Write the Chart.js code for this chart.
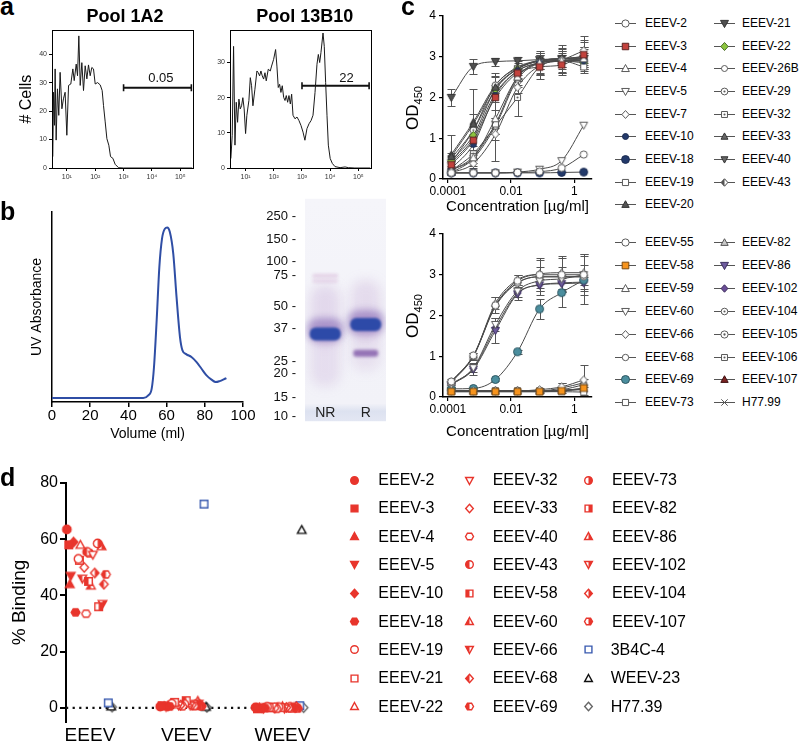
<!DOCTYPE html>
<html><head><meta charset="utf-8">
<script src="https://cdn.jsdelivr.net/npm/chart.js@4.4.1/dist/chart.umd.min.js"></script>
<style>
html,body{margin:0;padding:0;background:#fff}
body{width:799px;height:742px;overflow:hidden;position:relative;font-family:"Liberation Sans",Arial,Helvetica,sans-serif;color:#000}
canvas{position:absolute}
.lab{position:absolute;white-space:nowrap}
</style></head><body>
<script>
// ================= DATA =================
// Panel a : flow cytometry histograms
const flowTickValues = [10, 100, 1000, 10000, 100000];
const flowTickLabels = ['10\u00B9', '10\u00B2', '10\u00B3', '10\u2074', '10\u2075'];
const flowYTicks1 = [0, 10, 20, 30, 40];
const flowYTicks2 = [0, 10, 20, 30];
const pool1A2X = [3.2,3.4,3.67,3.87,4.2,4.67,5.2,5.8,6.7,7.6,8.7,10,11.5,13.8,16.3,18.2,21.4,23.8,26.5,29.6,33.8,38.7,44.3,50.8,58,66.5,76,87,100,121,150,176,196,225,258,302,347,420,505,665,1000,262144];
const pool1A2Y = [4,26.6,15,34.8,9.8,27.8,18.5,33.6,20.8,24.3,26.6,11.5,29,29.5,34.8,30.7,36.5,32.4,46.4,29,37,27.2,35.9,31.3,36.2,32.4,35.3,34.8,29.5,30,29.2,27.2,22,16.2,10.3,8,4,3.4,1.3,0.1,0,0];
const pool13B10X = [3.0,3.36,3.75,4.2,4.66,5.2,5.8,6.46,7.2,8.0,8.9,10,11.1,13.1,14.7,16.3,18.2,21.4,25.2,28.2,31.4,35,39,43.6,48.6,54,63.7,75,83.5,98.6,116,129,144,161,179,200,224,250,277,310,345,386,430,480,565,665,780,920,1090,1270,1500,1780,2100,2460,2900,3400,3800,4240,4700,5560,6170,6900,7700,8600,10000,11900,14800,22400,33700,44000,75000,262144];
const pool13B10Y = [2.7,9.3,34.6,6.5,18.7,13,19.6,16.8,17.7,20,16.8,9.8,15,19.2,25.7,23.4,17.7,22.4,27.6,27.1,26.2,27.6,26.2,25.3,27.1,24.8,28.1,27.6,29,30.9,33.7,29,22.9,23.8,21.5,23.4,20.1,19.2,20.6,18.7,20.6,18.2,21,15,14,14.5,13.5,12.1,10.2,7.9,11.2,12.6,13.5,15,21.5,29.5,32.3,30,32.8,38.4,34.6,24.3,15,6.5,2.7,1.3,0.4,0.1,0.3,0.1,0,0];
const gate1 = {from: 1000, to: 245000, level: 28.2, label: '0.05', labelX: 20600, labelY: 31.4};
const gate2 = {from: 1000, to: 240000, level: 23.4, label: '22', labelX: 38000, labelY: 25.6};

// Panel b : size exclusion trace and gel
const uvVolume = [0,47.8,50.4,52.2,53.4,54.8,56.2,57.6,59.1,60.3,61.7,63.5,65.2,67,68.3,70.4,73,75.7,78.3,80.9,83.5,85.7,87.8,89.9,91.3];
const uvAbs = [0.021,0.021,0.035,0.07,0.184,0.43,0.71,0.86,0.912,0.918,0.895,0.78,0.553,0.342,0.272,0.251,0.237,0.21,0.175,0.14,0.118,0.105,0.11,0.119,0.126];
const markerKDa = ['250','150','100','75','50','37','25','20','15','10'];
const markerMigration = [8.0,18.1,28.0,34.4,48.3,58.3,73.1,78.4,89.4,97.8];
const gelLanes = ['NR','R'];
const bandLane = ['NR','NR','NR','NR','NR','NR','R','R','R','R','R'];
const bandMigration = [52,71,34.6,37,59,60.8,50,64,55.5,56.5,69.4];
const bandKind = ['smear','smear','faint','faint','halo','main','smear','smear','halo','main','minor'];
const bandIntensity = [0.2,0.16,0.3,0.24,0.45,1,0.18,0.14,0.45,1,0.72];

// Panel c : ELISA binding curves
const conc = [0.000128, 0.00064, 0.0032, 0.016, 0.08, 0.4, 2];
const concTicks = [0.0001, 0.01, 1];
const concTickLabels = ['0.0001', '0.01', '1'];
const c1Names = ['EEEV-2','EEEV-3','EEEV-4','EEEV-5','EEEV-7','EEEV-10','EEEV-18','EEEV-19','EEEV-20','EEEV-21','EEEV-22','EEEV-26B','EEEV-29','EEEV-32','EEEV-33','EEEV-40','EEEV-43'];
const c1OD = [
  [0.15,0.15,0.15,0.16,0.18,0.27,0.60],
  [0.35,0.95,2.00,2.60,2.75,2.80,3.05],
  [0.22,0.52,1.48,2.50,2.85,2.90,2.95],
  [0.15,0.15,0.15,0.17,0.24,0.45,1.32],
  [0.15,0.38,1.10,2.25,2.78,2.92,3.15],
  [0.25,0.85,2.05,2.65,2.85,2.90,2.90],
  [0.15,0.15,0.15,0.15,0.15,0.16,0.17],
  [0.20,0.55,1.35,2.50,2.85,2.90,2.75],
  [0.55,1.35,2.25,2.70,2.90,2.95,3.00],
  [2.00,2.76,2.88,2.90,2.93,2.95,2.95],
  [0.45,1.07,2.20,2.70,2.90,2.90,2.85],
  [0.15,0.50,1.30,2.45,2.85,2.95,3.00],
  [0.40,1.20,2.30,2.72,2.90,2.95,2.90],
  [0.20,0.62,1.30,2.00,2.75,2.90,2.90],
  [0.60,1.40,2.30,2.75,2.90,2.95,2.95],
  [0.50,1.20,2.20,2.70,2.90,2.95,2.95],
  [0.40,1.00,2.10,2.65,2.85,2.90,2.90]
];
const c1Err = [
  null,
  [0.08,0.15,0.30,0.12,0.20,0.25,0.30],
  [0.10,0.20,1.05,0.20,0.25,0.30,0.30],
  null,
  [0.05,0.10,0.15,0.15,0.20,0.30,0.35],
  null, null, null,
  [0.10,0.85,0.35,0.15,0.20,0.20,0.25],
  [0.22,0.18,0.10,0.10,0.12,0.10,0.10],
  null,
  [0.05,0.10,0.20,0.20,0.30,0.35,0.40],
  null,
  [0.05,0.10,0.20,0.45,0.30,0.20,0.20],
  [0.47,0.20,0.20,0.15,0.20,0.20,0.25],
  null, null
];
const c2Names = ['EEEV-55','EEEV-58','EEEV-59','EEEV-60','EEEV-66','EEEV-68','EEEV-69','EEEV-73','EEEV-82','EEEV-86','EEEV-102','EEEV-104','EEEV-105','EEEV-106','EEEV-107','H77.99'];
const c2OD = [
  [0.38,1.02,2.25,2.85,3.00,3.00,3.00],
  [0.13,0.13,0.13,0.13,0.13,0.15,0.22],
  [0.35,1.00,2.30,2.88,3.02,3.05,3.05],
  [0.30,0.72,1.78,2.60,2.85,2.90,3.00],
  [0.15,0.15,0.15,0.15,0.18,0.25,0.42],
  [0.38,1.00,2.22,2.80,2.95,2.95,2.95],
  [0.20,0.21,0.43,1.11,2.16,2.56,2.87],
  [0.13,0.13,0.13,0.13,0.13,0.13,0.12],
  [0.15,0.15,0.15,0.15,0.15,0.22,0.35],
  [0.30,0.68,1.63,2.53,2.75,2.78,2.80],
  [0.32,0.70,1.70,2.55,2.75,2.80,2.82],
  [0.37,1.00,2.25,2.80,2.95,2.95,2.95],
  [0.15,0.15,0.15,0.15,0.15,0.18,0.30],
  [0.15,0.15,0.15,0.15,0.15,0.16,0.18],
  [0.15,0.15,0.15,0.15,0.15,0.17,0.20],
  [0.14,0.14,0.14,0.14,0.14,0.15,0.20]
];
const c2Err = [
  [0.05,0.05,0.20,0.15,0.40,0.42,0.50],
  null,
  [0.05,0.08,0.15,0.12,0.35,0.40,0.45],
  [0.05,0.10,0.15,0.15,0.35,0.30,0.25],
  [0,0,0,0,0.05,0.10,0.36],
  null,
  [0.02,0.03,0.03,0.05,0.25,0.35,0.60],
  null,
  [0,0,0,0,0.05,0.12,0.10],
  [0.05,0.15,0.30,0.15,0.15,0.20,0.15],
  null, null, null, null, null, null
];

// Panel d : % binding
const dGroups = ['EEEV', 'VEEV', 'WEEV'];
const dYTicks = [0, 20, 40, 60, 80];
const dNames = ['EEEV-2','EEEV-3','EEEV-4','EEEV-5','EEEV-10','EEEV-18','EEEV-19','EEEV-21','EEEV-22','EEEV-32','EEEV-33','EEEV-40','EEEV-43','EEEV-58','EEEV-60','EEEV-66','EEEV-68','EEEV-69','EEEV-73','EEEV-82','EEEV-86','EEEV-102','EEEV-104','EEEV-107','3B4C-4','WEEV-23','H77.39'];
const dEEEV = [63.5,58,44,47,59,34,53,52.5,58,54.5,50,33.5,55.5,45,43.5,46,44,47.5,58.5,36,57.5,37,48,55,1.8,0.5,0.3];
const dVEEV = [0.5,0.8,0.6,0.4,0.7,0.5,1.5,2.0,1.2,0.9,1.0,0.6,1.4,2.6,1.8,0.9,1.1,0.7,1.3,0.8,2.5,1.5,1.0,0.6,72.5,0.4,0.2];
const dWEEV = [0.2,-0.3,0.1,0.3,-0.2,0.0,0.4,0.2,-0.1,0.5,0.0,-0.3,0.3,0.1,0.6,-0.2,0.2,0.0,0.4,-0.1,0.3,0.1,0.5,-0.2,0.8,63.3,0.1];
const jitterEEEV = [-0.24,-0.22,-0.21,-0.20,-0.17,-0.15,-0.12,-0.11,-0.10,0.03,-0.06,-0.04,-0.03,-0.015,0.01,-0.08,0.145,0.165,0.08,0.09,0.12,0.13,0.05,-0.005,0.19,0.22,0.23];
const jitterVEEV = [-0.27,-0.25,-0.23,-0.21,-0.19,-0.17,-0.15,-0.12,-0.10,-0.08,-0.06,-0.04,-0.02,0.0,0.02,0.04,0.06,0.08,0.10,0.11,0.12,0.13,0.15,0.16,0.185,0.205,0.215];
const jitterWEEV = [-0.28,-0.26,-0.24,-0.22,-0.20,-0.18,-0.16,-0.14,-0.12,-0.10,-0.08,-0.06,-0.04,-0.02,0.0,0.02,0.04,0.06,0.08,0.10,0.12,0.13,0.145,0.16,0.18,0.2,0.22];

// ================= SETUP =================
const FF = '"Liberation Sans", Arial, Helvetica, sans-serif';
Chart.defaults.font.family = FF;
Chart.defaults.color = '#000';
Chart.defaults.animation = false;
Chart.defaults.responsive = false;
Chart.defaults.maintainAspectRatio = false;
Chart.defaults.events = [];
Chart.defaults.plugins.legend.display = false;
Chart.defaults.plugins.tooltip.enabled = false;

function mkCanvas(left, top, w, h) {
  const c = document.createElement('canvas');
  c.width = w; c.height = h;
  c.style.left = left + 'px'; c.style.top = top + 'px';
  c.style.width = w + 'px'; c.style.height = h + 'px';
  document.body.appendChild(c);
  return c.getContext('2d');
}
function addText(html, x, y, fs, o) {
  o = o || {};
  const d = document.createElement('div');
  d.className = 'lab';
  d.innerHTML = html;
  d.style.fontSize = fs + 'px';
  d.style.lineHeight = fs + 'px';
  d.style.left = x + 'px';
  d.style.top = y + 'px';
  if (o.bold) d.style.fontWeight = 'bold';
  if (o.center) d.style.transform = 'translateX(-50%)';
  if (o.rot) d.style.transform = 'translate(-50%,-50%) rotate(-90deg)';
  if (o.color) d.style.color = o.color;
  document.body.appendChild(d);
  return d;
}

// ---------- markers
function shapePath(ctx, shape, r) {
  ctx.beginPath();
  switch (shape) {
    case 'circle': ctx.arc(0, 0, r, 0, Math.PI * 2); break;
    case 'square': ctx.rect(-r * 0.9, -r * 0.9, r * 1.8, r * 1.8); break;
    case 'triangle': ctx.moveTo(0, -r * 1.05); ctx.lineTo(r * 1.02, r * 0.8); ctx.lineTo(-r * 1.02, r * 0.8); ctx.closePath(); break;
    case 'dtriangle': ctx.moveTo(0, r * 1.05); ctx.lineTo(r * 1.02, -r * 0.8); ctx.lineTo(-r * 1.02, -r * 0.8); ctx.closePath(); break;
    case 'diamond': ctx.moveTo(0, -r * 1.1); ctx.lineTo(r, 0); ctx.lineTo(0, r * 1.1); ctx.lineTo(-r, 0); ctx.closePath(); break;
    case 'hexagon': ctx.moveTo(-r * 1.05, 0); ctx.lineTo(-r * 0.55, -r * 0.85); ctx.lineTo(r * 0.55, -r * 0.85); ctx.lineTo(r * 1.05, 0); ctx.lineTo(r * 0.55, r * 0.85); ctx.lineTo(-r * 0.55, r * 0.85); ctx.closePath(); break;
    case 'cross': ctx.moveTo(-r, -r); ctx.lineTo(r, r); ctx.moveTo(r, -r); ctx.lineTo(-r, r); break;
  }
}
function paintMarker(ctx, m) {
  const lw = m.lw || 1;
  if (m.shape === 'cross') {
    shapePath(ctx, 'cross', m.r); ctx.lineWidth = lw; ctx.strokeStyle = m.stroke; ctx.stroke(); return;
  }
  shapePath(ctx, m.shape, m.r);
  ctx.fillStyle = m.fill || '#fff'; ctx.fill();
  if (m.half) {
    ctx.save(); shapePath(ctx, m.shape, m.r); ctx.clip();
    ctx.fillStyle = m.halfColor;
    ctx.fillRect(m.half === 'left' ? -20 : 0, -20, 20, 40);
    ctx.restore();
  }
  if (m.dot) { ctx.beginPath(); ctx.arc(0, 0, m.r * 0.32, 0, Math.PI * 2); ctx.fillStyle = m.stroke; ctx.fill(); }
  if (m.stroke) { shapePath(ctx, m.shape, m.r); ctx.lineWidth = lw; ctx.strokeStyle = m.stroke; ctx.lineJoin = 'miter'; ctx.stroke(); }
}
function makeMarker(m, withLine) {
  const s = Math.ceil(2 * m.r * 1.15 + (m.lw || 1) + 2) | 1;
  const w = withLine ? 21 : s;
  const c = document.createElement('canvas');
  c.width = w; c.height = s;
  const ctx = c.getContext('2d');
  if (withLine) {
    ctx.beginPath(); ctx.moveTo(0, s / 2); ctx.lineTo(w, s / 2);
    ctx.strokeStyle = '#555'; ctx.lineWidth = 1; ctx.stroke();
  }
  ctx.translate(w / 2, s / 2);
  paintMarker(ctx, m);
  return c;
}
function placeCanvas(c, cx, cy) {
  c.style.left = (cx - c.width / 2) + 'px';
  c.style.top = (cy - c.height / 2) + 'px';
  document.body.appendChild(c);
}

// ---------- plugins
const boxPlugin = {
  id: 'box',
  afterDraw(chart) {
    const {ctx, chartArea: a} = chart;
    ctx.save(); ctx.strokeStyle = '#000'; ctx.lineWidth = 1;
    ctx.strokeRect(Math.round(a.left) + 0.5, Math.round(a.top) + 0.5, Math.round(a.right - a.left), Math.round(a.bottom - a.top));
    ctx.restore();
  }
};
const gatePlugin = {
  id: 'gate',
  afterDatasetsDraw(chart, args, opts) {
    const {ctx, scales: {x, y}} = chart;
    ctx.save();
    ctx.font = '13px ' + FF; ctx.fillStyle = '#111';
    ctx.textAlign = 'center'; ctx.textBaseline = 'middle';
    ctx.fillText(opts.label, x.getPixelForValue(opts.labelX), y.getPixelForValue(opts.labelY));
    ctx.restore();
  }
};
const errorBarPlugin = {
  id: 'errorBars',
  beforeDatasetsDraw(chart) {
    const {ctx, scales: {x, y}} = chart;
    ctx.save(); ctx.strokeStyle = '#555'; ctx.lineWidth = 1;
    chart.data.datasets.forEach(ds => {
      if (!ds.errors) return;
      ds.errors.forEach((e, i) => {
        if (!e) return;
        const p = ds.data[i];
        const px = Math.round(x.getPixelForValue(p.x)) + 0.5;
        const y1 = Math.round(y.getPixelForValue(p.y + e)) + 0.5;
        const y2 = Math.round(y.getPixelForValue(p.y - e)) + 0.5;
        ctx.beginPath();
        ctx.moveTo(px, y1); ctx.lineTo(px, y2);
        ctx.moveTo(px - 4, y1); ctx.lineTo(px + 4, y1);
        ctx.moveTo(px - 4, y2); ctx.lineTo(px + 4, y2);
        ctx.stroke();
      });
    });
    ctx.restore();
  }
};
const bandStyles = {
  main:  {w: 31, h: 13, color: '#2d4aa8', blur: 1.2, radius: 6},
  halo:  {w: 36, h: 24, color: '#6b4aa6', blur: 3.5, radius: 10},
  smear: {w: 30, h: 60, color: '#a070b8', blur: 6, radius: 14},
  faint: {w: 26, h: 4, color: '#c48ac0', blur: 1.5, radius: 2},
  minor: {w: 25, h: 7, color: '#7448a0', blur: 1.6, radius: 3}
};
const gelPlugin = {
  id: 'gel',
  beforeDatasetsDraw(chart) {
    const {ctx, chartArea: a, scales: {x, y}} = chart;
    ctx.save();
    const g = ctx.createLinearGradient(0, a.top, 0, a.bottom);
    g.addColorStop(0, '#f5f5fa'); g.addColorStop(0.92, '#f2f2f8');
    g.addColorStop(0.955, '#dde2f0'); g.addColorStop(1, '#e3e7f3');
    ctx.fillStyle = g;
    ctx.fillRect(a.left, a.top, a.right - a.left, a.bottom - a.top);
    ctx.beginPath(); ctx.rect(a.left, a.top, a.right - a.left, a.bottom - a.top); ctx.clip();
    bandLane.forEach((lane, i) => {
      const st = bandStyles[bandKind[i]];
      const cx = x.getPixelForValue(gelLanes.indexOf(lane));
      const cy = y.getPixelForValue(bandMigration[i]);
      ctx.filter = 'blur(' + st.blur + 'px)';
      ctx.globalAlpha = bandIntensity[i];
      ctx.fillStyle = st.color;
      ctx.beginPath();
      ctx.roundRect(cx - st.w / 2, cy - st.h / 2, st.w, st.h, st.radius);
      ctx.fill();
    });
    ctx.filter = 'none'; ctx.globalAlpha = 1;
    ctx.font = '14px ' + FF; ctx.fillStyle = '#222';
    ctx.textAlign = 'center'; ctx.textBaseline = 'middle';
    gelLanes.forEach((l, i) => ctx.fillText(l, x.getPixelForValue(i), a.bottom - 8));
    ctx.restore();
  }
};

// ================= PANEL A =================
function flowChart(ctx, xs, ys, yMax, xMin, yTicks, gate, yTitle) {
  return new Chart(ctx, {
    type: 'line',
    data: {datasets: [
      {data: xs.map((v, i) => ({x: v, y: ys[i]})), borderColor: '#1a1a1a', borderWidth: 1, pointRadius: 0, tension: 0},
      {data: [{x: gate.from, y: gate.level}, {x: gate.to, y: gate.level}], borderColor: '#111', borderWidth: 2,
       pointStyle: 'line', rotation: 90, pointRadius: 3.5, pointBorderWidth: 1.6, pointBorderColor: '#111'}
    ]},
    options: {
      layout: {padding: {top: 5, right: 7, left: 0, bottom: 0}},
      scales: {
        x: {type: 'logarithmic', min: xMin, max: 280000,
            afterBuildTicks: s => { s.ticks = flowTickValues.map(v => ({value: v})); },
            afterFit: s => { s.height = 26; },
            ticks: {autoSkip: false, maxRotation: 0, font: {size: 7}, color: '#333', padding: 2, callback: (v, i) => flowTickLabels[i]},
            grid: {drawOnChartArea: false, tickLength: 3, color: '#000'}, border: {color: '#000', width: 1}},
        y: {min: 0, max: yMax,
            afterBuildTicks: s => { s.ticks = yTicks.map(v => ({value: v})); },
            afterFit: s => { s.width = 52; },
            ticks: {autoSkip: false, font: {size: 7}, color: '#333', padding: 2},
            grid: {drawOnChartArea: false, tickLength: 3, color: '#000'}, border: {color: '#000', width: 1},
            title: {display: !!yTitle, text: yTitle || '', font: {size: 16}, padding: {top: 17, bottom: 0}}}
      },
      plugins: {gate: gate}
    },
    plugins: [boxPlugin, gatePlugin]
  });
}
flowChart(mkCanvas(0, 24, 200, 170), pool1A2X, pool1A2Y, 48.4, 3.0, flowYTicks1, gate1, '# Cells');
flowChart(mkCanvas(178, 24, 200, 170), pool13B10X, pool13B10Y, 39.2, 2.8, flowYTicks2, gate2, null);

// ================= PANEL B =================
new Chart(mkCanvas(0, 200, 262, 245), {
  type: 'line',
  data: {datasets: [{data: uvVolume.map((v, i) => ({x: v, y: uvAbs[i]})), borderColor: '#2f4ea5', borderWidth: 2,
    pointRadius: 0, cubicInterpolationMode: 'monotone'}]},
  options: {
    layout: {padding: {top: 12, right: 19, left: 0, bottom: 0}},
    scales: {
      x: {type: 'linear', min: 0, max: 100,
          ticks: {stepSize: 20, font: {size: 15}, padding: 0, maxRotation: 0},
          grid: {drawOnChartArea: false, tickLength: 5, color: '#000', lineWidth: 1.5},
          border: {color: '#000', width: 1.5},
          title: {display: true, text: 'Volume (ml)', font: {size: 14}, padding: {top: 0, bottom: 2}},
          afterFit: s => { s.height = 43; }},
      y: {min: 0, max: 1, ticks: {display: false}, grid: {display: false},
          border: {color: '#000', width: 1.5},
          title: {display: true, text: 'UV Absorbance', font: {size: 14}, padding: {top: 29, bottom: 0}},
          afterFit: s => { s.width = 52; }}
    }
  }
});

new Chart(mkCanvas(262, 190, 128, 240), {
  type: 'scatter',
  data: {labels: gelLanes, datasets: []},
  options: {
    layout: {padding: {top: 3, right: 4, bottom: 5, left: 0}},
    scales: {
      x: {type: 'category', labels: gelLanes, offset: true, display: false},
      y: {type: 'linear', reverse: true, min: 0, max: 100,
          afterBuildTicks: s => { s.ticks = markerMigration.map(v => ({value: v})); },
          ticks: {autoSkip: false, font: {size: 13}, padding: 1, color: '#111', callback: (v, i) => markerKDa[i] + ' -'},
          grid: {display: false}, border: {display: false},
          afterFit: s => { s.width = 43; }}
    }
  },
  plugins: [gelPlugin]
});

// ================= PANEL C =================
const G = '#5a5a5a';
const cSpec = {
  'EEEV-2': {shape: 'circle', r: 3.6, fill: '#fff', stroke: G},
  'EEEV-3': {shape: 'square', r: 3.6, fill: '#c3423d', stroke: '#5e2422'},
  'EEEV-4': {shape: 'triangle', r: 3.8, fill: '#fff', stroke: G},
  'EEEV-5': {shape: 'dtriangle', r: 3.8, fill: '#fff', stroke: G},
  'EEEV-7': {shape: 'diamond', r: 3.6, fill: '#fff', stroke: G},
  'EEEV-10': {shape: 'circle', r: 3.0, fill: '#233a6b', stroke: '#1a2a50'},
  'EEEV-18': {shape: 'circle', r: 3.9, fill: '#233a6b', stroke: '#1a2a50'},
  'EEEV-19': {shape: 'square', r: 3.4, fill: '#fff', stroke: G},
  'EEEV-20': {shape: 'triangle', r: 3.6, fill: '#555', stroke: '#333'},
  'EEEV-21': {shape: 'dtriangle', r: 3.9, fill: '#505050', stroke: '#333'},
  'EEEV-22': {shape: 'diamond', r: 3.7, fill: '#8dc63f', stroke: '#4d6d2a'},
  'EEEV-26B': {shape: 'circle', r: 3.0, fill: '#fff', stroke: G},
  'EEEV-29': {shape: 'circle', r: 3.4, fill: '#fff', stroke: G, dot: true},
  'EEEV-32': {shape: 'square', r: 3.3, fill: '#fff', stroke: G, dot: true},
  'EEEV-33': {shape: 'triangle', r: 3.4, fill: '#666', stroke: '#333'},
  'EEEV-40': {shape: 'dtriangle', r: 3.4, fill: '#666', stroke: '#333'},
  'EEEV-43': {shape: 'diamond', r: 3.4, fill: '#fff', stroke: '#444', half: 'left', halfColor: '#555'},
  'EEEV-55': {shape: 'circle', r: 3.6, fill: '#fff', stroke: G},
  'EEEV-58': {shape: 'square', r: 3.7, fill: '#f7941d', stroke: '#7a4a10'},
  'EEEV-59': {shape: 'triangle', r: 3.8, fill: '#fff', stroke: G},
  'EEEV-60': {shape: 'dtriangle', r: 3.8, fill: '#fff', stroke: G},
  'EEEV-66': {shape: 'diamond', r: 3.6, fill: '#fff', stroke: G},
  'EEEV-68': {shape: 'circle', r: 3.2, fill: '#fff', stroke: G},
  'EEEV-69': {shape: 'circle', r: 4.0, fill: '#4b8e9e', stroke: '#2c5560'},
  'EEEV-73': {shape: 'square', r: 3.4, fill: '#fff', stroke: G},
  'EEEV-82': {shape: 'triangle', r: 3.6, fill: '#c8c8c8', stroke: '#555'},
  'EEEV-86': {shape: 'dtriangle', r: 3.9, fill: '#6e5c9e', stroke: '#3d3060'},
  'EEEV-102': {shape: 'diamond', r: 3.4, fill: '#6b4e98', stroke: '#3d2c5c'},
  'EEEV-104': {shape: 'circle', r: 3.3, fill: '#fff', stroke: G, dot: true},
  'EEEV-105': {shape: 'circle', r: 3.6, fill: '#fff', stroke: G, dot: true},
  'EEEV-106': {shape: 'square', r: 3.3, fill: '#fff', stroke: G, dot: true},
  'EEEV-107': {shape: 'triangle', r: 3.6, fill: '#7b2323', stroke: '#3d1010'},
  'H77.99': {shape: 'cross', r: 3.2, stroke: '#555', lw: 1}
};
function cChart(ctx, names, ods, errs, xTitlePad) {
  return new Chart(ctx, {
    type: 'line',
    data: {datasets: names.map((n, i) => ({
      label: n,
      data: conc.map((c, j) => ({x: c, y: ods[i][j]})),
      errors: errs[i],
      borderColor: '#4a4a4a', borderWidth: 1,
      pointStyle: makeMarker(cSpec[n]), pointRadius: 4,
      cubicInterpolationMode: 'monotone', clip: false
    }))},
    options: {
      layout: {padding: {top: 16, right: 13, left: 0, bottom: 0}},
      scales: {
        x: {type: 'logarithmic', min: 0.000075, max: 3.65,
            afterBuildTicks: s => { s.ticks = concTicks.map(v => ({value: v})); },
            afterFit: s => { s.height = xTitlePad.h; },
            ticks: {autoSkip: false, maxRotation: 0, font: {size: 12}, padding: 1, callback: (v, i) => concTickLabels[i]},
            grid: {drawOnChartArea: false, tickLength: 4, color: '#000', lineWidth: 1.2},
            border: {color: '#000', width: 1.5},
            title: {display: true, text: 'Concentration [\u00B5g/ml]', font: {size: 15}, padding: {top: 0, bottom: xTitlePad.b}}},
        y: {min: 0, max: 4,
            ticks: {stepSize: 1, font: {size: 12}, padding: 3},
            grid: {drawOnChartArea: false, tickLength: 4, color: '#000', lineWidth: 1.2},
            border: {color: '#000', width: 1.5},
            afterFit: s => { s.width = 45; }}
      }
    },
    plugins: [errorBarPlugin]
  });
}
cChart(mkCanvas(398, 0, 207, 222), c1Names, c1OD, c1Err, {h: 43, b: 6});
cChart(mkCanvas(398, 218, 207, 230), c2Names, c2OD, c2Err, {h: 51, b: 7});
addText('OD<sub style="font-size:11px;line-height:0">450</sub>', 411.5, 108, 17, {rot: true});
addText('OD<sub style="font-size:11px;line-height:0">450</sub>', 411.5, 316, 17, {rot: true});

function cLegend(names, top, step, perCol) {
  names.forEach((n, i) => {
    const col = Math.floor(i / perCol), row = i % perCol;
    const cy = top + row * step;
    const mx = col === 0 ? 625.5 : 724;
    const tx = col === 0 ? 645 : 742;
    placeCanvas(makeMarker(cSpec[n], true), mx, cy);
    addText(n, tx, cy - 6.5, 12);
  });
}
cLegend(c1Names, 23.3, 22.7, 9);
cLegend(c2Names, 242.7, 22.86, 8);

// ================= PANEL D =================
const RED = '#e8352c';
const dSpec = {
  'EEEV-2': {shape: 'circle', fill: RED},
  'EEEV-3': {shape: 'square', fill: RED},
  'EEEV-4': {shape: 'triangle', fill: RED},
  'EEEV-5': {shape: 'dtriangle', fill: RED},
  'EEEV-10': {shape: 'diamond', fill: RED},
  'EEEV-18': {shape: 'hexagon', fill: RED},
  'EEEV-19': {shape: 'circle', fill: '#fff'},
  'EEEV-21': {shape: 'square', fill: '#fff'},
  'EEEV-22': {shape: 'triangle', fill: '#fff'},
  'EEEV-32': {shape: 'dtriangle', fill: '#fff'},
  'EEEV-33': {shape: 'diamond', fill: '#fff'},
  'EEEV-40': {shape: 'hexagon', fill: '#fff'},
  'EEEV-43': {shape: 'circle', half: 'left'},
  'EEEV-58': {shape: 'square', half: 'left'},
  'EEEV-60': {shape: 'triangle', half: 'left'},
  'EEEV-66': {shape: 'dtriangle', half: 'left'},
  'EEEV-68': {shape: 'diamond', half: 'left'},
  'EEEV-69': {shape: 'hexagon', half: 'left'},
  'EEEV-73': {shape: 'circle', half: 'right'},
  'EEEV-82': {shape: 'square', half: 'right'},
  'EEEV-86': {shape: 'triangle', half: 'right'},
  'EEEV-102': {shape: 'dtriangle', half: 'right'},
  'EEEV-104': {shape: 'diamond', half: 'right'},
  'EEEV-107': {shape: 'hexagon', half: 'right'},
  '3B4C-4': {shape: 'square', fill: '#fff', stroke: '#3a5bb0'},
  'WEEV-23': {shape: 'triangle', fill: '#fff', stroke: '#111'},
  'H77.39': {shape: 'diamond', fill: '#fff', stroke: '#666'}
};
function dMarker(n, r) {
  const s = dSpec[n];
  return makeMarker({shape: s.shape, r: r, fill: s.fill || '#fff', stroke: s.stroke || RED,
    lw: 1.4, half: s.half, halfColor: RED});
}
const dDatasets = dNames.map((n, i) => ({
  label: n,
  data: [{x: 0 + jitterEEEV[i], y: dEEEV[i]}, {x: 1 + jitterVEEV[i], y: dVEEV[i]}, {x: 2 + jitterWEEV[i], y: dWEEV[i]}],
  showLine: false, pointStyle: dMarker(n, 4.2), pointRadius: 4, clip: false
}));
dDatasets.push({label: 'baseline', data: [{x: -0.249, y: 0}, {x: 2.234, y: 0}], showLine: true, pointRadius: 0,
  borderColor: '#111', borderWidth: 2.2, borderDash: [2.2, 4.4], clip: false});
new Chart(mkCanvas(0, 470, 320, 272), {
  type: 'scatter',
  data: {datasets: dDatasets},
  options: {
    layout: {padding: {top: 13, right: 15, left: 0, bottom: 0}},
    scales: {
      x: {type: 'linear', min: -0.249, max: 2.234,
          afterBuildTicks: s => { s.ticks = [0, 1, 2].map(v => ({value: v})); },
          afterFit: s => { s.height = 20; },
          ticks: {autoSkip: false, maxRotation: 0, font: {size: 19}, padding: -6, callback: (v, i) => dGroups[i]},
          grid: {display: false}, border: {display: false}},
      y: {min: -5, max: 80,
          afterBuildTicks: s => { s.ticks = dYTicks.map(v => ({value: v})); },
          afterFit: s => { s.width = 66; },
          ticks: {autoSkip: false, font: {size: 16}, padding: 2},
          grid: {drawOnChartArea: false, tickLength: 6, color: '#000', lineWidth: 2},
          border: {color: '#000', width: 2},
          title: {display: true, text: '% Binding', font: {size: 19}, padding: {top: 8.6, bottom: 0}}}
    }
  }
});
const dColX = [354, 469.3, 588.3];
const dTextX = [378.3, 492.7, 612];
dNames.forEach((n, i) => {
  const col = Math.floor(i / 9), row = i % 9;
  const cy = 480 + row * 28.33;
  placeCanvas(dMarker(n, 3.8), dColX[col], cy);
  addText(n, dTextX[col] - (col === 2 && i >= 24 ? 1.3 : 0), cy - 8, 16);
});

// ================= LABELS =================
addText('a', 0, -6, 25, {bold: true});
addText('b', 0, 199, 25, {bold: true});
addText('c', 401, -6, 25, {bold: true});
addText('d', 0, 465, 25, {bold: true});
addText('Pool 1A2', 125, 7, 18, {bold: true, center: true});
addText('Pool 13B10', 304.7, 7, 18, {bold: true, center: true});
</script>
</body></html>
